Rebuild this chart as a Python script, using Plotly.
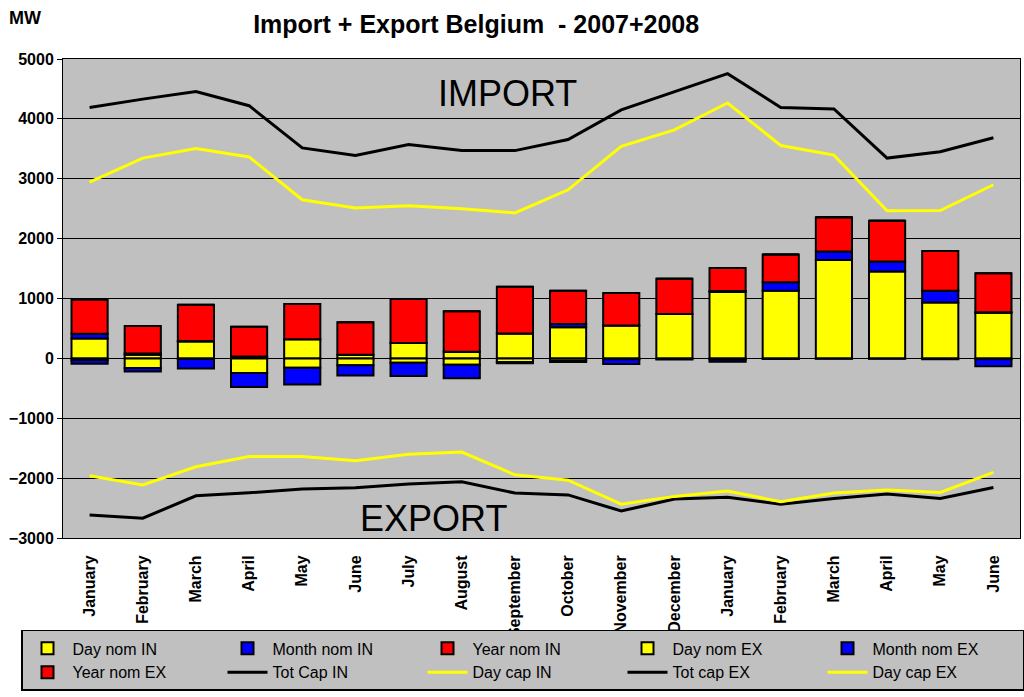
import plotly.graph_objects as go

months = ["January", "February", "March", "April", "May", "June", "July", "August",
          "September", "October", "November", "December",
          "January", "February", "March", "April", "May", "June"]

day_nom_in = [330, 60, 280, 30, 320, 60, 255, 110, 415, 520, 550, 740, 1110, 1130, 1645, 1450, 935, 760]
month_nom_in = [80, 20, 10, 0, 0, 0, 0, 0, 0, 55, 0, 0, 15, 140, 140, 170, 195, 10]
year_nom_in = [575, 460, 605, 500, 590, 545, 735, 675, 780, 555, 540, 590, 385, 465, 570, 680, 665, 650]
day_nom_ex = [-30, -160, -10, -245, -155, -115, -75, -105, -60, -40, -15, -20, -20, -10, -5, -5, -15, -15]
month_nom_ex = [-60, -60, -160, -235, -280, -170, -220, -225, -20, -20, -80, 0, -35, 0, 0, 0, 0, -115]
year_nom_ex = [0] * 18

tot_cap_in = [4190, 4330, 4455, 4220, 3515, 3390, 3570, 3470, 3470, 3655, 4150, 4455,
              4755, 4190, 4165, 3345, 3450, 3685]
day_cap_in = [2945, 3345, 3505, 3365, 2650, 2510, 2550, 2500, 2430, 2815, 3540, 3815,
              4265, 3555, 3395, 2465, 2470, 2900]
tot_cap_ex = [-2615, -2670, -2295, -2245, -2180, -2160, -2100, -2060, -2250, -2280, -2550, -2350,
              -2320, -2435, -2340, -2265, -2340, -2155]
day_cap_ex = [-1960, -2115, -1810, -1640, -1640, -1710, -1600, -1565, -1945, -2035, -2435, -2305,
              -2215, -2395, -2250, -2200, -2240, -1905]

x = list(range(len(months)))
bar_line = dict(color="black", width=2)

fig = go.Figure()
for name, vals, col in [("Day nom IN", day_nom_in, "#FFFF00"),
                        ("Month nom IN", month_nom_in, "#0000FF"),
                        ("Year nom IN", year_nom_in, "#FF0000"),
                        ("Day nom EX", day_nom_ex, "#FFFF00"),
                        ("Month nom EX", month_nom_ex, "#0000FF"),
                        ("Year nom EX", year_nom_ex, "#FF0000")]:
    fig.add_trace(go.Bar(x=x, y=vals, name=name, marker=dict(color=col, line=bar_line), width=0.68))

for name, vals, col in [("Tot Cap IN", tot_cap_in, "black"),
                        ("Day cap IN", day_cap_in, "#FFFF00"),
                        ("Tot cap EX", tot_cap_ex, "black"),
                        ("Day cap EX", day_cap_ex, "#FFFF00")]:
    fig.add_trace(go.Scatter(x=x, y=vals, name=name, mode="lines", line=dict(color=col, width=3)))

fig.update_layout(
    width=1024, height=697,
    barmode="relative",
    paper_bgcolor="white", plot_bgcolor="#C0C0C0",
    margin=dict(l=63, r=4, t=59, b=159),
    font=dict(family="Liberation Sans, Arial, sans-serif", color="black"),
    title=dict(text="<b>Import + Export Belgium  - 2007+2008</b>", x=0.465, xanchor="center",
               y=0.9656, yanchor="middle", font=dict(size=25)),
    showlegend=True,
    legend=dict(orientation="h", x=-0.0428, xanchor="left", y=-0.192, yanchor="top",
                bgcolor="#C0C0C0", bordercolor="black", borderwidth=1.5,
                entrywidth=145, entrywidthmode="pixels", traceorder="normal",
                itemwidth=40, tracegroupgap=0,
                font=dict(size=16)),
)

fig.update_xaxes(range=[-0.5, 17.5], tickmode="array", tickvals=x,
                 ticktext=["<b>" + m + "</b>" for m in months], tickangle=-90,
                 tickfont=dict(size=16), ticklabelstandoff=10,
                 showline=True, linecolor="black", linewidth=1,
                 mirror=True, ticks="", showgrid=False)
fig.update_yaxes(range=[-3000, 5000], dtick=1000, tickfont=dict(size=16, weight="bold"),
                 showgrid=True, gridcolor="black", gridwidth=1, zeroline=True,
                 zerolinecolor="black", zerolinewidth=1, showline=True, linecolor="black",
                 linewidth=1, mirror=True, ticks="outside", ticklen=5, tickcolor="black")

fig.add_annotation(text="MW", xref="paper", yref="paper", x=-0.0397, y=1.0866, showarrow=False,
                   font=dict(size=18, weight="bold"), xanchor="center", yanchor="middle")
fig.add_annotation(text="IMPORT", xref="paper", yref="paper", x=0.464, y=0.929, showarrow=False,
                   font=dict(size=36), xanchor="center", yanchor="middle")
fig.add_annotation(text="EXPORT", xref="paper", yref="paper", x=0.387, y=0.040, showarrow=False,
                   font=dict(size=36), xanchor="center", yanchor="middle")

# drop the default 8px page margin so the figure sits at the window origin
fig.write_html("out.html", config={"displayModeBar": False},
               post_script="document.body.style.margin='0';")
